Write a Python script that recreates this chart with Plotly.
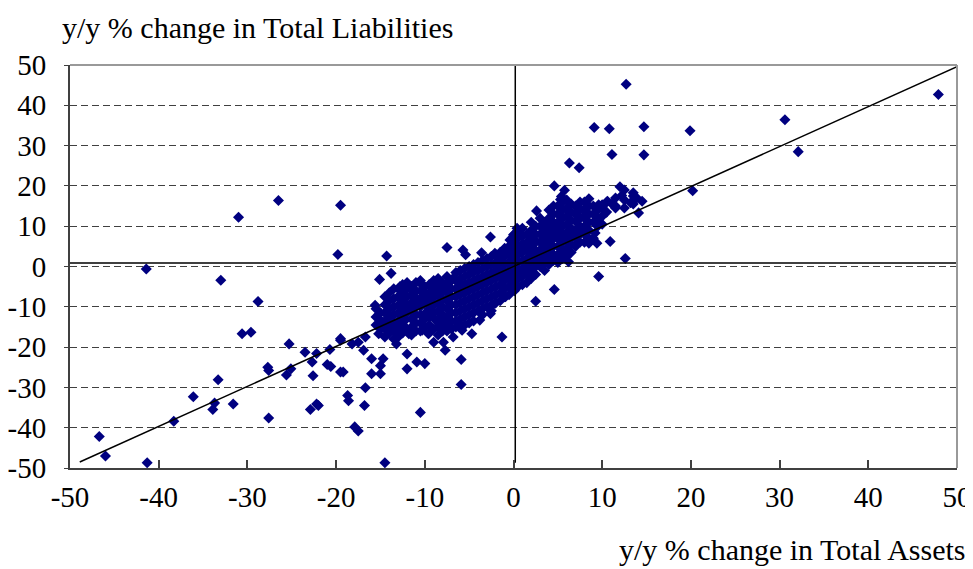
import plotly.graph_objects as go

# ---- data ----
outer_points = [
    (-41.4, -0.6), (-31.0, 12.2), (-26.5, 16.4), (-19.5, 15.2), (-19.8, 3.0), (-33.0, -3.4),
    (-28.8, -8.7), (-30.6, -16.7), (-29.6, -16.3), (-25.3, -19.2), (-23.5, -21.3), (-22.7, -23.7),
    (-22.2, -21.6), (-22.6, -27.1), (-20.7, -20.6), (-21.0, -24.3), (-20.6, -24.8), (-19.5, -18.3),
    (-19.5, -26.2), (-27.7, -25.0), (-27.6, -25.8), (-25.6, -26.9), (-25.1, -25.4), (-33.3, -28.1),
    (-36.1, -32.3), (-33.7, -33.9), (-33.9, -35.5), (-31.6, -34.1), (-27.6, -37.6), (-38.3, -38.4),
    (-22.9, -35.5), (-22.2, -34.1), (-22.0, -34.5), (-46.7, -42.2), (-46.0, -47.0), (-41.3, -48.7),
    (14.7, 34.7), (19.9, 33.7), (14.7, 27.7), (30.6, 36.4), (32.1, 28.5), (20.2, 18.8), (47.9, 42.7),
    (14.5, 16.2), (12.7, 45.2), (9.1, 34.5), (10.8, 34.2), (11.1, 27.8), (6.3, 25.7), (7.4, 24.5),
    (4.6, 20.0), (5.75, 18.9), (5.4, 17.4), (12.0, 19.8), (12.2, 17.6), (13.5, 18.3), (13.9, 17.0),
    (8.5, 16.8), (9.6, 15.3), (10.6, 16.2), (11.1, 15.5),
    (-16.8, -34.5), (-10.5, -36.2), (-17.9, -39.8), (-17.5, -40.8), (-14.5, -48.7), (-18.6, -33.3),
    (-16.7, -30.1), (-18.7, -32.0), (-5.9, -29.3), (-5.9, -23.1), (-1.3, -17.5), (12.6, 2.0),
    (9.6, -2.5), (4.6, -5.7), (2.5, -8.6),
]

mid_points = [
    (-14.3, 2.6), (-13.8, -1.7), (-15.1, -3.2), (-12.0, -4.0), (-12.8, -5.0), (-12.8, -7.1),
    (-11.6, -5.4), (-10.3, -4.6), (-10.9, -7.9), (-9.8, -7.1), (-8.8, -3.8), (-8.6, -6.3),
    (2.6, 13.8), (0.4, 9.5), (0.75, 8.3), (-2.6, 7.3), (-7.5, 4.7), (-5.7, 4.1), (-5.4, 2.9),
    (-3.6, 3.4), (-2.1, 3.3), (-0.9, 4.3), (-0.4, 6.6), (0.0, 7.9), (0.9, 4.9), (1.9, 5.8),
    (2.4, 6.6), (3.0, 4.1), (2.3, 2.9), (-0.6, 0.8), (-1.9, 0.0), (-1.5, 2.0), (-4.5, -0.9),
    (-6.8, -2.9), (-7.5, -4.2), (-7.9, -5.9), (-6.0, -4.2), (-4.1, -3.4), (-3.0, -2.9),
    (-1.5, -2.5), (-0.7, -1.7), (0.75, -2.5), (1.1, -0.9), (1.9, 0.0), (3.0, 0.8), (2.6, 2.0),
    (-0.9, -7.5), (-2.1, -9.2),
    (5.3, 16.6), (10.0, 15.3), (11.5, 14.5), (13.2, 15.8), (14.1, 13.3), (7.3, 14.9), (6.4, 13.3),
    (8.1, 12.8), (9.6, 11.6), (4.1, 11.2), (7.7, 9.5), (9.2, 8.3), (8.5, 5.8), (9.4, 5.8),
    (10.9, 6.2), (6.2, 1.2), (5.1, 2.0), (3.9, 3.3), (5.8, 6.6), (4.7, 7.4), (6.6, 7.9),
    (5.1, 9.9), (7.0, 11.2), (3.6, 5.8), (4.3, 4.9), (5.6, 4.1),
    (-15.6, -9.6), (-13.0, -9.6), (-10.9, -8.8), (-14.1, -11.7), (-14.8, -13.8), (-13.7, -14.6),
    (-12.2, -13.3), (-11.5, -10.4), (-10.0, -11.7), (-8.8, -13.3), (-10.3, -15.8), (-11.8, -16.7),
    (-13.0, -16.7), (-15.2, -16.7), (-16.7, -17.5), (-18.2, -19.2), (-19.5, -17.9), (-17.5, -18.8),
    (-13.2, -19.2), (-12.0, -21.7), (-16.9, -20.8), (-16.0, -22.9), (-14.7, -22.9), (-15.0, -24.6),
    (-16.0, -26.6), (-15.0, -26.6), (-19.2, -26.2), (-12.0, -25.4), (-10.9, -23.7), (-10.0, -24.1),
    (-9.0, -18.8), (-9.6, -16.7),
    (-7.9, -18.8), (-7.7, -20.8), (-6.8, -17.5), (-4.7, -16.7), (-5.8, -15.8), (-7.7, -14.2),
    (-3.8, -13.3), (-2.6, -11.7),
]

core_points_a = [
    (-15.5, -10.5), (-15.5, -12.5), (-15.5, -14.5),
    (-14.5, -7.5), (-14.5, -9.5), (-14.5, -11.5), (-14.5, -13.5), (-14.5, -15.5), (-14.5, -17.5),
    (-13.5, -5.5), (-13.5, -8.0), (-13.5, -10.0), (-13.5, -12.0), (-13.5, -14.0), (-13.5, -16.0), (-13.5, -18.0),
    (-12.5, -4.5), (-12.5, -6.5), (-12.5, -8.5), (-12.5, -10.5), (-12.5, -12.5), (-12.5, -14.5), (-12.5, -16.5),
    (-11.5, -5.0), (-11.5, -7.0), (-11.5, -9.0), (-11.5, -11.0), (-11.5, -13.0), (-11.5, -15.0), (-11.5, -17.0),
    (-10.5, -3.5), (-10.5, -6.0), (-10.5, -8.0), (-10.5, -10.0), (-10.5, -12.0), (-10.5, -14.0), (-10.5, -16.0),
    (-9.5, -4.5), (-9.5, -6.5), (-9.5, -8.5), (-9.5, -10.5), (-9.5, -12.5), (-9.5, -14.5), (-9.5, -16.5),
    (-8.5, -3.0), (-8.5, -5.0), (-8.5, -7.0), (-8.5, -9.0), (-8.5, -11.0), (-8.5, -13.0), (-8.5, -15.0), (-8.5, -17.0),
    (-7.5, -2.5), (-7.5, -4.5), (-7.5, -6.5), (-7.5, -8.5), (-7.5, -10.5), (-7.5, -12.5), (-7.5, -14.5), (-7.5, -16.0),
    (-6.5, -1.5), (-6.5, -3.5), (-6.5, -5.5), (-6.5, -7.5), (-6.5, -9.5), (-6.5, -11.5), (-6.5, -13.5), (-6.5, -15.0),
    (-5.5, -0.5), (-5.5, -2.5), (-5.5, -4.5), (-5.5, -6.5), (-5.5, -8.5), (-5.5, -10.5), (-5.5, -12.5), (-5.5, -14.5),
    (-4.5, 0.5), (-4.5, -1.5), (-4.5, -3.5), (-4.5, -5.5), (-4.5, -7.5), (-4.5, -9.5), (-4.5, -11.5), (-4.5, -13.5),
    (-3.5, 1.5), (-3.5, -0.5), (-3.5, -2.5), (-3.5, -4.5), (-3.5, -6.5), (-3.5, -8.5), (-3.5, -10.5), (-3.5, -12.0),
    (-2.5, 2.5), (-2.5, 0.5), (-2.5, -1.5), (-2.5, -3.5), (-2.5, -5.5), (-2.5, -7.5), (-2.5, -9.5), (-2.5, -11.0),
    (-1.5, 3.5), (-1.5, 1.5), (-1.5, -0.5), (-1.5, -2.5), (-1.5, -4.5), (-1.5, -6.5), (-1.5, -8.5),
    (-0.5, 5.0), (-0.5, 3.0), (-0.5, 1.0), (-0.5, -1.0), (-0.5, -3.0), (-0.5, -5.0), (-0.5, -7.0),
    (0.5, 9.0), (0.5, 7.0), (0.5, 5.0), (0.5, 3.0), (0.5, 1.0), (0.5, -1.0), (0.5, -3.0), (0.5, -5.0),
    (1.5, 8.0), (1.5, 6.0), (1.5, 4.0), (1.5, 2.0), (1.5, 0.0), (1.5, -2.0), (1.5, -4.0),
    (2.5, 10.0), (2.5, 8.0), (2.5, 6.0), (2.5, 4.0), (2.5, 2.0), (2.5, 0.0), (2.5, -2.0),
    (3.5, 11.0), (3.5, 9.0), (3.5, 7.0), (3.5, 5.0), (3.5, 3.0), (3.5, 1.0), (3.5, -1.0),
    (4.5, 15.0), (4.5, 13.0), (4.5, 11.0), (4.5, 9.0), (4.5, 7.0), (4.5, 5.0), (4.5, 3.0), (4.5, 1.5),
    (5.5, 16.0), (5.5, 14.0), (5.5, 12.0), (5.5, 10.0), (5.5, 8.0), (5.5, 6.0), (5.5, 4.0), (5.5, 2.0),
    (6.5, 15.5), (6.5, 13.5), (6.5, 11.5), (6.5, 9.5), (6.5, 7.5), (6.5, 5.5), (6.5, 3.5),
    (7.5, 16.0), (7.5, 14.0), (7.5, 12.0), (7.5, 10.0), (7.5, 8.0), (7.5, 6.0),
    (8.5, 15.0), (8.5, 13.0), (8.5, 11.0), (8.5, 9.0), (8.5, 7.0),
    (9.5, 14.0), (9.5, 12.0), (9.5, 10.0),
    (10.5, 16.0), (10.5, 13.5), (11.5, 15.0), (11.5, 17.0),
    (12.5, 14.5), (12.5, 16.5), (12.5, 19.0), (13.5, 15.5), (13.5, 17.5),
]

core_points_b = [
    (-15.0, -11.5), (-15.0, -13.5), (-15.0, -15.5),
    (-14.0, -6.5), (-14.0, -8.5), (-14.0, -10.5), (-14.0, -12.5), (-14.0, -14.5), (-14.0, -16.5),
    (-13.0, -5.5), (-13.0, -7.5), (-13.0, -11.5), (-13.0, -13.5), (-13.0, -15.5), (-13.0, -17.5),
    (-12.0, -5.5), (-12.0, -7.5), (-12.0, -9.5), (-12.0, -11.5), (-12.0, -15.5),
    (-11.0, -4.0), (-11.0, -6.0), (-11.0, -10.0), (-11.0, -12.0), (-11.0, -14.0), (-11.0, -16.0),
    (-10.0, -5.0), (-10.0, -7.0), (-10.0, -9.0), (-10.0, -13.0), (-10.0, -15.0),
    (-9.0, -3.5), (-9.0, -5.5), (-9.0, -7.5), (-9.0, -9.5), (-9.0, -11.5), (-9.0, -15.5),
    (-8.0, -4.0), (-8.0, -6.0), (-8.0, -8.0), (-8.0, -10.0), (-8.0, -12.0), (-8.0, -14.0), (-8.0, -16.0),
    (-7.0, -3.5), (-7.0, -5.5), (-7.0, -7.5), (-7.0, -9.5), (-7.0, -11.5), (-7.0, -13.5), (-7.0, -15.5),
    (-6.0, -1.0), (-6.0, -3.0), (-6.0, -5.0), (-6.0, -7.0), (-6.0, -9.0), (-6.0, -11.0), (-6.0, -13.0), (-6.0, -14.5),
    (-5.0, 0.0), (-5.0, -2.0), (-5.0, -4.0), (-5.0, -6.0), (-5.0, -8.0), (-5.0, -10.0), (-5.0, -12.0), (-5.0, -14.0),
    (-4.0, 1.0), (-4.0, -1.0), (-4.0, -3.0), (-4.0, -5.0), (-4.0, -7.0), (-4.0, -9.0), (-4.0, -11.0),
    (-3.0, 2.0), (-3.0, 0.0), (-3.0, -2.0), (-3.0, -4.0), (-3.0, -6.0), (-3.0, -8.0), (-3.0, -10.0),
    (-2.0, 3.0), (-2.0, 1.0), (-2.0, -1.0), (-2.0, -3.0), (-2.0, -5.0), (-2.0, -7.0), (-2.0, -9.0),
    (-1.0, 4.5), (-1.0, 2.5), (-1.0, 0.5), (-1.0, -1.5), (-1.0, -3.5), (-1.0, -5.5), (-1.0, -7.5),
    (0.1, 8.0), (0.1, 6.0), (0.1, 4.0), (0.1, 2.0), (0.1, 0.0), (0.1, -2.0), (0.1, -4.0), (0.1, -6.0),
    (1.0, 9.5), (1.0, 7.5), (1.0, 5.5), (1.0, 3.5), (1.0, 1.5), (1.0, -0.5), (1.0, -2.5), (1.0, -4.5),
    (2.0, 11.0), (2.0, 9.0), (2.0, 7.0), (2.0, 5.0), (2.0, 3.0), (2.0, 1.0), (2.0, -1.0), (2.0, -3.0),
    (3.0, 12.0), (3.0, 10.0), (3.0, 8.0), (3.0, 6.0), (3.0, 4.0), (3.0, 2.0), (3.0, 0.0),
    (4.0, 14.0), (4.0, 12.0), (4.0, 10.0), (4.0, 8.0), (4.0, 6.0), (4.0, 4.0), (4.0, 2.0), (4.0, 0.5),
    (5.0, 15.0), (5.0, 13.0), (5.0, 11.0), (5.0, 9.0), (5.0, 7.0), (5.0, 5.0), (5.0, 3.0), (5.0, 1.0),
    (6.0, 16.5), (6.0, 14.5), (6.0, 12.5), (6.0, 10.5), (6.0, 8.5), (6.0, 6.5), (6.0, 4.5), (6.0, 2.5),
    (7.0, 15.0), (7.0, 13.0), (7.0, 9.0), (7.0, 7.0), (7.0, 5.0),
    (8.0, 16.0), (8.0, 14.0), (8.0, 12.0), (8.0, 10.0), (8.0, 8.0), (8.0, 6.0),
    (9.0, 15.0), (9.0, 13.0), (9.0, 11.0), (9.0, 7.0),
    (10.0, 14.5), (10.0, 12.5), (10.0, 10.5),
]

fit_x = [-48.9, 50.0]
fit_y = [-48.5, 49.6]
mean_x = 0.2
mean_y = 0.85
vline_y = [-48.7, 50.0]

tick_vals = [-50, -40, -30, -20, -10, 0, 10, 20, 30, 40, 50]
tick_text = ["-50", "-40", "-30", "-20", "-10", "0", "10", "20", "30", "40", "50"]

all_points = core_points_a + core_points_b + mid_points + outer_points
xs = [p[0] for p in all_points]
ys = [p[1] for p in all_points]

FONT = "Liberation Serif, Times New Roman, serif"
NAVY = "#000080"
AXIS = "#404040"

fig = go.Figure()
fig.add_trace(go.Scatter(
    x=xs, y=ys, mode="markers",
    marker=dict(symbol="diamond", size=8.5, color=NAVY, line=dict(width=0)),
    hoverinfo="skip", showlegend=False))
fig.add_trace(go.Scatter(x=fit_x, y=fit_y, mode="lines",
                         line=dict(color="black", width=1.5), showlegend=False))
fig.add_trace(go.Scatter(x=[-50, 50], y=[mean_y, mean_y], mode="lines",
                         line=dict(color="black", width=1.5), showlegend=False))
fig.add_trace(go.Scatter(x=[mean_x, mean_x], y=vline_y, mode="lines",
                         line=dict(color="black", width=1.5), showlegend=False))

# page body adds an 8px offset, so the figure is 8px smaller than the window
fig.update_layout(
    width=965, height=561,
    margin=dict(l=62, r=16, t=57, b=101, autoexpand=False),
    paper_bgcolor="white", plot_bgcolor="white",
    font=dict(family=FONT, size=29, color="black"),
    showlegend=False,
    xaxis=dict(range=[-50, 50], tickvals=tick_vals, ticktext=tick_text,
               showgrid=False, zeroline=False,
               showline=True, linecolor=AXIS, linewidth=2,
               ticks="inside", ticklen=8, tickcolor=AXIS, tickwidth=1.5,
               tickfont=dict(family=FONT, size=29), ticklabelstandoff=2),
    yaxis=dict(range=[-50, 50], tickvals=tick_vals, ticktext=tick_text,
               showgrid=True, gridcolor=AXIS,
               gridwidth=1, griddash="7px,4px", zeroline=False,
               showline=True, linecolor=AXIS, linewidth=2,
               ticks="outside", ticklen=4, tickcolor=AXIS,
               tickfont=dict(family=FONT, size=29), ticklabelstandoff=12),
    shapes=[
        dict(type="line", xref="paper", yref="paper", x0=0, x1=1, y0=1, y1=1,
             line=dict(color="#999999", width=2)),
        dict(type="line", xref="paper", yref="paper", x0=1, x1=1, y0=0, y1=1,
             line=dict(color="#999999", width=2)),
    ],
    annotations=[
        dict(text="y/y % change in Total Liabilities", xref="paper", yref="paper",
             x=0, y=1.0, xanchor="left", yanchor="middle", xshift=-10, yshift=38,
             showarrow=False, font=dict(family=FONT, size=30)),
        dict(text="y/y % change in Total Assets", xref="paper", yref="paper",
             x=1, y=0, xanchor="right", yanchor="middle", xshift=10, yshift=-81,
             showarrow=False, font=dict(family=FONT, size=30)),
    ],
)

fig.write_html("out.html")
